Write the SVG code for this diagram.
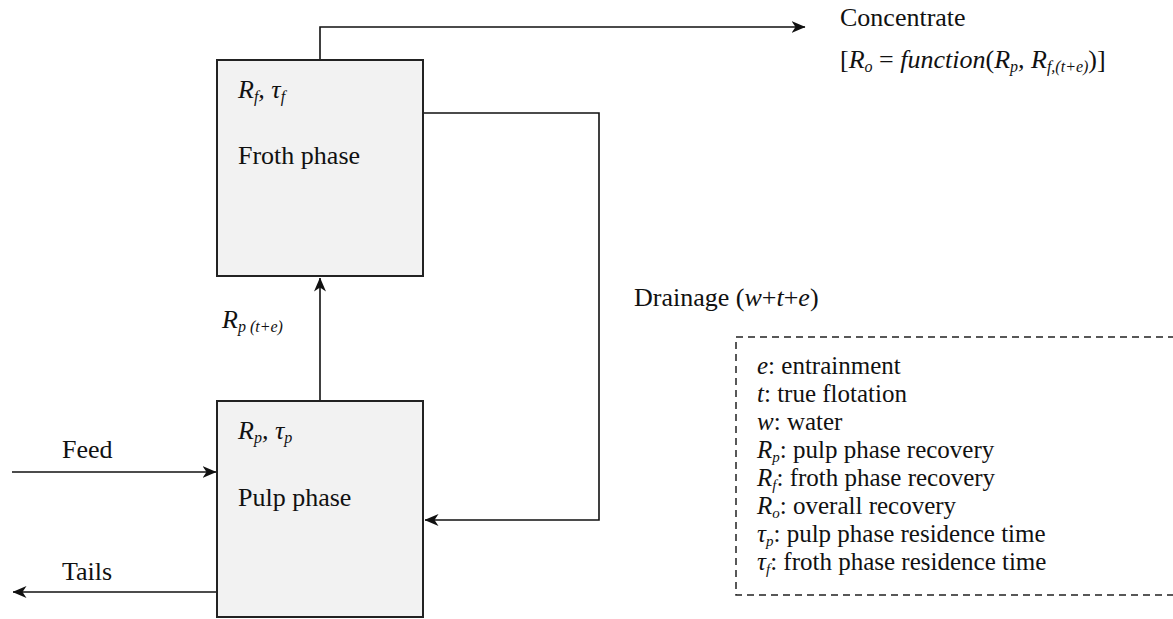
<svg xmlns="http://www.w3.org/2000/svg" width="1173" height="619" viewBox="0 0 1173 619">
<style>
text{font-family:"Liberation Serif","DejaVu Serif",serif;font-size:26px;fill:#111}
.i{font-style:italic}
.s{font-size:16px;font-style:italic}
.lg text{font-size:25px}
.lg .s{font-size:15px}
.box{fill:#f2f2f2;stroke:#222;stroke-width:2}
.ln{fill:none;stroke:#111;stroke-width:1.6}
.leg{fill:none;stroke:#222;stroke-width:1.5;stroke-dasharray:7,5}
</style>
<defs>
<marker id="ah" viewBox="0 0 14 12" refX="13.5" refY="6" markerWidth="14" markerHeight="12" markerUnits="userSpaceOnUse" orient="auto">
<path d="M0,0 L14,6 L0,12 L4,6 Z" fill="#111"/>
</marker>
</defs>
<g id="connectors">
<polyline class="ln" points="320,60 320,27 805,27" marker-end="url(#ah)"/>
<polyline class="ln" points="423,113 599,113 599,520 425,520" marker-end="url(#ah)"/>
<line class="ln" x1="320" y1="401" x2="320" y2="278" marker-end="url(#ah)"/>
<line class="ln" x1="12" y1="472" x2="216" y2="472" marker-end="url(#ah)"/>
<line class="ln" x1="217" y1="592" x2="13" y2="592" marker-end="url(#ah)"/>
</g>
<g id="froth">
<rect class="box" x="217" y="60" width="206" height="216"/>
<text x="238" y="98" class="i">R<tspan class="s" dy="4">f</tspan><tspan dy="-4">, τ</tspan><tspan class="s" dy="4">f</tspan></text>
<text x="238" y="164">Froth phase</text>
</g>
<g id="pulp">
<rect class="box" x="217" y="401" width="206" height="216"/>
<text x="238" y="439" class="i">R<tspan class="s" dy="4">p</tspan><tspan dy="-4">, τ</tspan><tspan class="s" dy="4">p</tspan></text>
<text x="238" y="506">Pulp phase</text>
</g>
<g id="labels">
<text x="62" y="458">Feed</text>
<text x="62" y="580">Tails</text>
<text x="222" y="328" class="i">R<tspan class="s" dy="4">p (t+e)</tspan></text>
<text x="634" y="306">Drainage (<tspan class="i">w</tspan>+<tspan class="i">t</tspan>+<tspan class="i">e</tspan>)</text>
<text x="840" y="26">Concentrate</text>
<text x="840" y="68" font-size="24">[<tspan class="i">R</tspan><tspan class="s" dy="4" font-size="14">o</tspan><tspan dy="-4"> = </tspan><tspan class="i">function</tspan>(<tspan class="i">R</tspan><tspan class="s" dy="4" font-size="14">p</tspan><tspan class="i" dy="-4">, R</tspan><tspan class="s" dy="4" font-size="13">f,(t+e)</tspan><tspan dy="-4">)]</tspan></text>
</g>
<g id="legend" class="lg">
<rect class="leg" x="736" y="337" width="450" height="258"/>
<text x="757" y="374"><tspan class="i">e</tspan>: entrainment</text>
<text x="757" y="402"><tspan class="i">t</tspan>: true flotation</text>
<text x="757" y="430"><tspan class="i">w</tspan>: water</text>
<text x="757" y="458"><tspan class="i">R</tspan><tspan class="s" dy="4">p</tspan><tspan dy="-4">: pulp phase recovery</tspan></text>
<text x="757" y="486"><tspan class="i">R</tspan><tspan class="s" dy="4">f</tspan><tspan dy="-4">: froth phase recovery</tspan></text>
<text x="757" y="514"><tspan class="i">R</tspan><tspan class="s" dy="4">o</tspan><tspan dy="-4">: overall recovery</tspan></text>
<text x="757" y="542"><tspan class="i">τ</tspan><tspan class="s" dy="4">p</tspan><tspan dy="-4">: pulp phase residence time</tspan></text>
<text x="757" y="570"><tspan class="i">τ</tspan><tspan class="s" dy="4">f</tspan><tspan dy="-4">: froth phase residence time</tspan></text>
</g>
</svg>
